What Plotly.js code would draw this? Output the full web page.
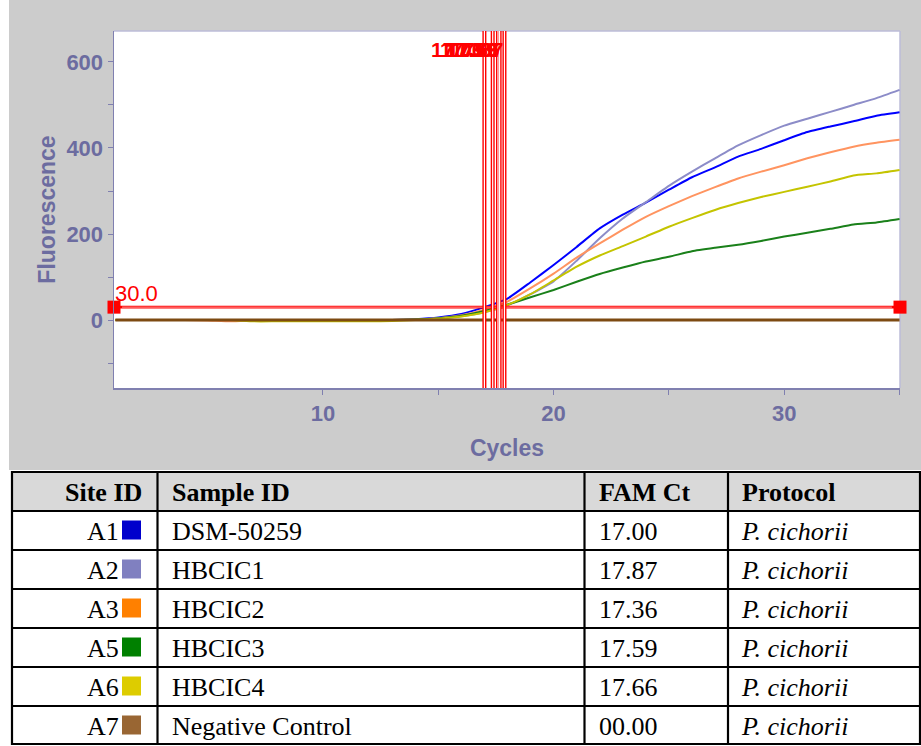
<!DOCTYPE html>
<html>
<head>
<meta charset="utf-8">
<script src="https://cdn.plot.ly/plotly-3.0.1.min.js"></script>
<style>html,body{margin:0;padding:0;background:#fff;}#chart{width:921px;height:746px;}</style>
</head>
<body>
<div id="chart"></div>
<script>
// ---------------- DATA ----------------
const cycles = [1,2,3,4,5,6,7,8,9,10,11,12,13,14,15,16,17,18,19,20,21,22,23,24,25,26,27,28,29,30,31,32,33,34,35];
const seriesA1 = [0,0,0,0,0,0,0,0,0,0,0,0,0,2,6,14,30,50,88,128,170,213,245,273,303,332,355,380,398,418,437,450,462,475,483];
const seriesA2 = [0,0,0,0,0,0,0,0,0,0,0,0,0,1,4,9,18,34,60,90,138,190,236,274,312,345,376,406,430,452,468,484,500,516,535];
const seriesA3 = [0,0,0,0,-1,-3,-1,0,0,0,0,0,0,1,4,11,24,43,74,108,145,178,210,240,265,288,309,329,345,360,376,390,403,412,419];
const seriesA5 = [0,0,0,0,0,0,0,0,0,0,0,0,0,1,4,10,21,36,53,70,89,107,122,136,147,160,168,175,184,194,203,212,222,227,235];
const seriesA6 = [0,0,0,0,0,0,-3,-3,-3,-3,-3,-3,-2,0,3,8,18,35,60,92,124,150,172,194,217,237,256,272,286,298,310,322,336,341,349];
const seriesA7 = [0,0,0,0,0,0,0,0,0,0,0,0,0,0,0,0,0,0,0,0,0,0,0,0,0,0,0,0,0,0,0,0,0,0,0];
const lineColors = ['#0000ff','#8c8cc8','#ff9460','#1a801a','#c4c400','#7d4a12'];
const threshold = 30.0;
const ctValues = [17.00, 17.36, 17.59, 17.66, 17.87];

// table
const siteIds = ['A1','A2','A3','A5','A6','A7'];
const sampleIds = ['DSM-50259','HBCIC1','HBCIC2','HBCIC3','HBCIC4','Negative Control'];
const famCt = ['17.00','17.87','17.36','17.59','17.66','00.00'];
const protocols = ['P. cichorii','P. cichorii','P. cichorii','P. cichorii','P. cichorii','P. cichorii'];
const swatchColors = ['#0000cc','#8080c0','#ff8000','#008000','#ddcc00','#996633'];
const tableHeaders = ['Site ID','Sample ID','FAM Ct','Protocol'];

// ---------------- LAYOUT HELPERS ----------------
const W = 921, H = 746;
const PX = x => x / W;
const PY = y => 1 - y / H;
const plotL = 114, plotR = 900, plotT = 31, plotB = 388;
const xRange = [0.94, 35.02];
const yRange = [-158, 672];
const axisCol = '#8080b0';
const labelCol = '#6c6ca0';
const sansFont = 'Liberation Sans, Arial, sans-serif';
const serifFont = 'Liberation Serif, Times New Roman, serif';

const traces = [];
const allSeries = [seriesA1, seriesA2, seriesA3, seriesA5, seriesA6];
allSeries.forEach((s, i) => {
  traces.push({x: cycles, y: s, type: 'scatter', mode: 'lines',
    line: {color: lineColors[i], width: 2, shape: 'spline', smoothing: 0.5}, hoverinfo: 'skip'});
});
traces.push({x: cycles, y: seriesA7, type: 'scatter', mode: 'lines',
  line: {color: lineColors[5], width: 3}, hoverinfo: 'skip'});
traces.push({x: [xRange[0], xRange[1]], y: [threshold, threshold], type: 'scatter', mode: 'lines',
  line: {color: '#ff0000', width: 2.6}, hoverinfo: 'skip'});
traces.push({x: [xRange[0] + 0.35, xRange[1] - 0.35], y: [threshold, threshold], type: 'scatter', mode: 'lines',
  line: {color: '#ffd0d0', width: 0.7}, hoverinfo: 'skip'});
traces.push({x: [xRange[0], xRange[1]], y: [threshold, threshold], type: 'scatter', mode: 'markers',
  marker: {symbol: 'square', size: 13, color: '#ff0000', line: {width: 0}},
  cliponaxis: false, hoverinfo: 'skip'});

const shapes = [];
const grayBg = '#cccccc';
[[9, 0, 921, plotT], [9, plotB, 921, 470], [9, plotT, plotL, plotB], [plotR, plotT, 921, plotB]].forEach(r => {
  shapes.push({type: 'rect', xref: 'paper', yref: 'paper', x0: PX(r[0]), x1: PX(r[2]), y0: PY(r[1]), y1: PY(r[3]),
    fillcolor: grayBg, line: {width: 0}, layer: 'below'});
});
shapes.push({type: 'line', xref: 'paper', yref: 'paper', x0: PX(plotL), x1: PX(plotR), y0: PY(plotT), y1: PY(plotT),
  line: {color: '#bcbcd8', width: 1.5}, layer: 'below'});
shapes.push({type: 'line', xref: 'paper', yref: 'paper', x0: PX(plotR), x1: PX(plotR), y0: PY(plotT), y1: PY(plotB),
  line: {color: '#bcbcd8', width: 1.5}, layer: 'below'});
ctValues.forEach(c => {
  shapes.push({type: 'line', xref: 'x', yref: 'y', x0: c, x1: c, y0: yRange[0], y1: yRange[1],
    line: {color: '#ff0000', width: 4}, layer: 'above'});
});
ctValues.forEach(c => {
  shapes.push({type: 'line', xref: 'x', yref: 'y', x0: c, x1: c, y0: yRange[0], y1: yRange[1],
    line: {color: '#ffffff', width: 1.2}, layer: 'above'});
});

const tblL = 12, tblR = 920, tblT = 472, headerB = 511, rowH = 39;
const colX = [12, 157.5, 584.5, 728, 920];
const nRows = siteIds.length;
const tblB = headerB + nRows * rowH;
shapes.push({type: 'rect', xref: 'paper', yref: 'paper', x0: PX(tblL), x1: PX(tblR), y0: PY(tblT), y1: PY(headerB),
  fillcolor: '#d9d9d9', line: {width: 0}, layer: 'below'});
const hLines = [tblT, headerB];
for (let i = 1; i <= nRows; i++) hLines.push(headerB + i * rowH - (i === nRows ? 1 : 0));
hLines.forEach(y => shapes.push({type: 'line', xref: 'paper', yref: 'paper', x0: PX(tblL - 1), x1: PX(921), y0: PY(y), y1: PY(y),
  line: {color: '#000', width: 2.2}}));
colX.forEach(x => shapes.push({type: 'line', xref: 'paper', yref: 'paper', x0: PX(x), x1: PX(x), y0: PY(tblT - 1), y1: PY(tblB),
  line: {color: '#000', width: 2.2}}));
siteIds.forEach((s, i) => {
  const top = headerB + i * rowH;
  shapes.push({type: 'rect', xref: 'paper', yref: 'paper', x0: PX(122), x1: PX(141), y0: PY(top + 9.5), y1: PY(top + 28.5),
    fillcolor: swatchColors[i], line: {width: 0}});
});

const annotations = [];
ctValues.forEach(c => {
  annotations.push({xref: 'x', yref: 'paper', x: c, y: PY(49), xanchor: 'right', yanchor: 'middle', showarrow: false,
    text: '<b>' + c.toFixed(2) + '</b>', font: {family: sansFont, size: 21, color: '#ff0000'}, borderpad: 0, borderwidth: 0});
});
annotations.push({xref: 'x', yref: 'y', x: xRange[0], y: threshold, xanchor: 'left', yanchor: 'bottom', showarrow: false,
  text: threshold.toFixed(1), font: {family: sansFont, size: 22, color: '#ff0000'}, borderpad: 0, borderwidth: 0, xshift: 1, yshift: 1});

function tAnn(x, yc, text, anchor, opts) {
  annotations.push(Object.assign({xref: 'paper', yref: 'paper', x: PX(x), y: PY(yc), xanchor: anchor, yanchor: 'middle',
    showarrow: false, text: text, borderpad: 0, borderwidth: 0,
    font: {family: serifFont, size: 26, color: '#000'}}, opts || {}));
}
const headerMid = (tblT + headerB) / 2 + 1;
tAnn(142, headerMid, '<b>' + tableHeaders[0] + '</b>', 'right');
tAnn(172, headerMid, '<b>' + tableHeaders[1] + '</b>', 'left');
tAnn(599, headerMid, '<b>' + tableHeaders[2] + '</b>', 'left');
tAnn(742, headerMid, '<b>' + tableHeaders[3] + '</b>', 'left');
siteIds.forEach((s, i) => {
  const mid = headerB + i * rowH + rowH / 2 + 1;
  tAnn(118.5, mid, s, 'right');
  tAnn(172, mid, sampleIds[i], 'left');
  tAnn(599, mid, famCt[i], 'left');
  tAnn(741, mid, '<i>' + protocols[i] + '</i>', 'left');
});

const tickFont = {family: sansFont, size: 22, color: labelCol, weight: 'bold'};
const titleFont = {family: sansFont, size: 23, color: labelCol, weight: 'bold'};

const layout = {
  width: W, height: H,
  margin: {l: 0, r: 0, t: 0, b: 0, pad: 0},
  paper_bgcolor: '#ffffff', plot_bgcolor: '#ffffff',
  showlegend: false,
  xaxis: {
    domain: [PX(plotL), PX(plotR)], range: xRange, automargin: false,
    tickmode: 'array', tickvals: [10, 20, 30], ticks: 'outside', ticklen: 5, tickcolor: axisCol, tickwidth: 1,
    minor: {tickmode: 'array', tickvals: [15, 25, 35], ticks: 'outside', ticklen: 5, tickcolor: axisCol, tickwidth: 1},
    showline: true, linecolor: axisCol, linewidth: 1.5, showgrid: false, zeroline: false,
    tickfont: tickFont, ticklabelstandoff: 0,
    title: {text: 'Cycles', font: titleFont, standoff: 15}
  },
  yaxis: {
    domain: [PY(plotB), PY(plotT)], range: yRange, automargin: false,
    tickmode: 'array', tickvals: [0, 200, 400, 600], ticks: 'outside', ticklen: 5, tickcolor: axisCol, tickwidth: 1,
    minor: {tickmode: 'array', tickvals: [-100, 100, 300, 500], ticks: 'outside', ticklen: 5, tickcolor: axisCol, tickwidth: 1},
    showline: true, linecolor: axisCol, linewidth: 1.5, showgrid: false, zeroline: false,
    tickfont: tickFont,
    title: {text: 'Fluorescence', font: titleFont, standoff: 4}
  },
  shapes: shapes,
  annotations: annotations
};

Plotly.newPlot('chart', traces, layout, {staticPlot: true, displayModeBar: false});
</script>
</body>
</html>
